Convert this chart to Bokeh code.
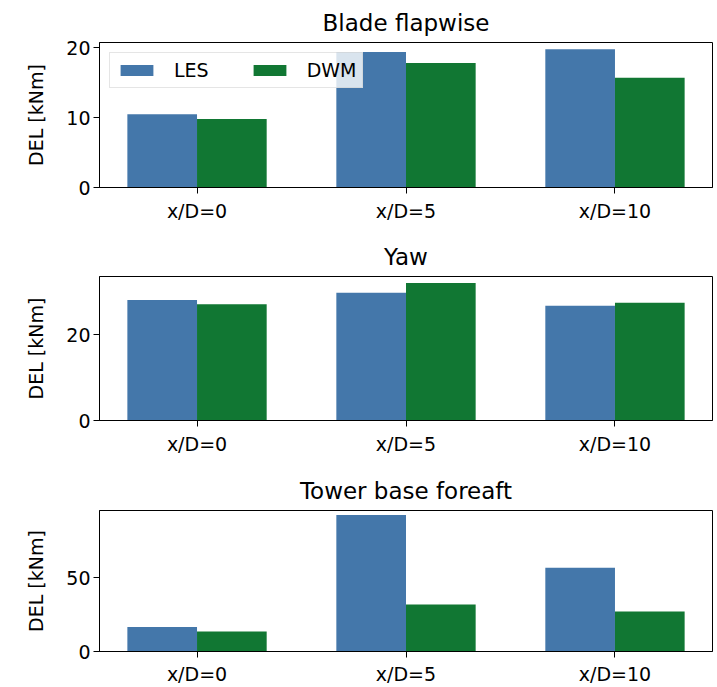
from bokeh.plotting import figure
from bokeh.layouts import column
from bokeh.models import ColumnDataSource, Range1d, FixedTicker, Legend, LegendItem
from bokeh.transform import dodge
from bokeh.embed import file_html
from bokeh.resources import INLINE

# ---- data ----
categories = ["x/D=0", "x/D=5", "x/D=10"]
titles = ["Blade flapwise", "Yaw", "Tower base foreaft"]
series_names = ["LES", "DWM"]

blade_les = [10.5, 19.4, 19.8]
blade_dwm = [9.8, 17.8, 15.7]
yaw_les = [28.1, 29.8, 26.8]
yaw_dwm = [27.1, 32.1, 27.5]
tower_les = [16.7, 92.7, 56.9]
tower_dwm = [13.6, 32.0, 27.1]

y_max = [20.75, 33.6, 95.8]
y_ticks = [[0, 10, 20], [0, 20], [0, 50]]

# ---- styling ----
colors = ["#4477AA", "#117733"]
bar_w = 1 / 3
FONT = "DejaVu Sans"
TICK_FS = "19px"
TITLE_FS = "23px"


def make_panel(title, les, dwm, ymax, ticks, top, frame_h, bottom, with_legend, xstandoff=6):
    margin = bar_w + 0.05 * (2 + 2 * bar_w)
    p = figure(
        width=716, height=top + frame_h + bottom,
        output_backend="svg", toolbar_location=None,
        x_range=Range1d(-margin, len(categories) - 1 + margin),
        y_range=Range1d(0, ymax),
        min_border_left=99, min_border_right=4,
        min_border_top=top, min_border_bottom=bottom,
    )
    p.title.text = title
    p.title.align = "center"
    p.title.text_font = FONT
    p.title.text_font_size = TITLE_FS
    p.title.text_font_style = "normal"
    p.title.text_color = "black"
    p.title.standoff = 13

    src = ColumnDataSource(dict(x=list(range(len(categories))), les=les, dwm=dwm))
    r1 = p.vbar(x=dodge("x", -bar_w / 2), top="les", width=bar_w, source=src,
                fill_color=colors[0], line_color=None)
    r2 = p.vbar(x=dodge("x", bar_w / 2), top="dwm", width=bar_w, source=src,
                fill_color=colors[1], line_color=None)

    p.xaxis.ticker = FixedTicker(ticks=list(range(len(categories))))
    p.xaxis.major_label_overrides = {i: c for i, c in enumerate(categories)}
    p.yaxis.ticker = FixedTicker(ticks=ticks)
    p.yaxis.axis_label = "DEL [kNm]"

    for ax in (p.xaxis, p.yaxis):
        ax.major_label_text_font = FONT
        ax.major_label_text_font_size = TICK_FS
        ax.major_label_text_color = "black"
        ax.axis_label_text_font = FONT
        ax.axis_label_text_font_size = TICK_FS
        ax.axis_label_text_font_style = "normal"
        ax.axis_label_text_color = "black"
        ax.minor_tick_line_color = None
        ax.major_tick_in = 0
        ax.major_tick_out = 6
        ax.major_tick_line_color = "black"
        ax.major_tick_line_width = 1
        ax.axis_line_color = "black"
        ax.axis_line_width = 1
    p.xaxis.major_label_standoff = xstandoff
    p.yaxis.major_label_standoff = 3
    p.yaxis.axis_label_standoff = 16

    p.grid.visible = False
    p.outline_line_color = "black"
    p.outline_line_width = 1
    p.outline_line_alpha = 1

    if with_legend:
        leg = Legend(
            items=[LegendItem(label=series_names[0], renderers=[r1]),
                   LegendItem(label=series_names[1], renderers=[r2])],
            location="top_left", orientation="horizontal",
        )
        leg.margin = 10
        leg.padding = 6
        leg.spacing = 40
        leg.glyph_width = 41
        leg.glyph_height = 14
        leg.label_standoff = 17
        leg.label_text_font = FONT
        leg.label_text_font_size = TICK_FS
        leg.label_text_color = "black"
        leg.border_line_color = "#cccccc"
        leg.border_line_width = 1
        leg.background_fill_color = "white"
        leg.background_fill_alpha = 0.8
        p.add_layout(leg)
    return p


p1 = make_panel(titles[0], blade_les, blade_dwm, y_max[0], y_ticks[0], 42, 145, 48, True)
p2 = make_panel(titles[1], yaw_les, yaw_dwm, y_max[1], y_ticks[1], 40, 145, 49, False)
p3 = make_panel(titles[2], tower_les, tower_dwm, y_max[2], y_ticks[2], 40, 142, 36, False, xstandoff=5)

layout = column(p1, p2, p3, spacing=0)
open("out.html", "w").write(file_html(layout, INLINE))
